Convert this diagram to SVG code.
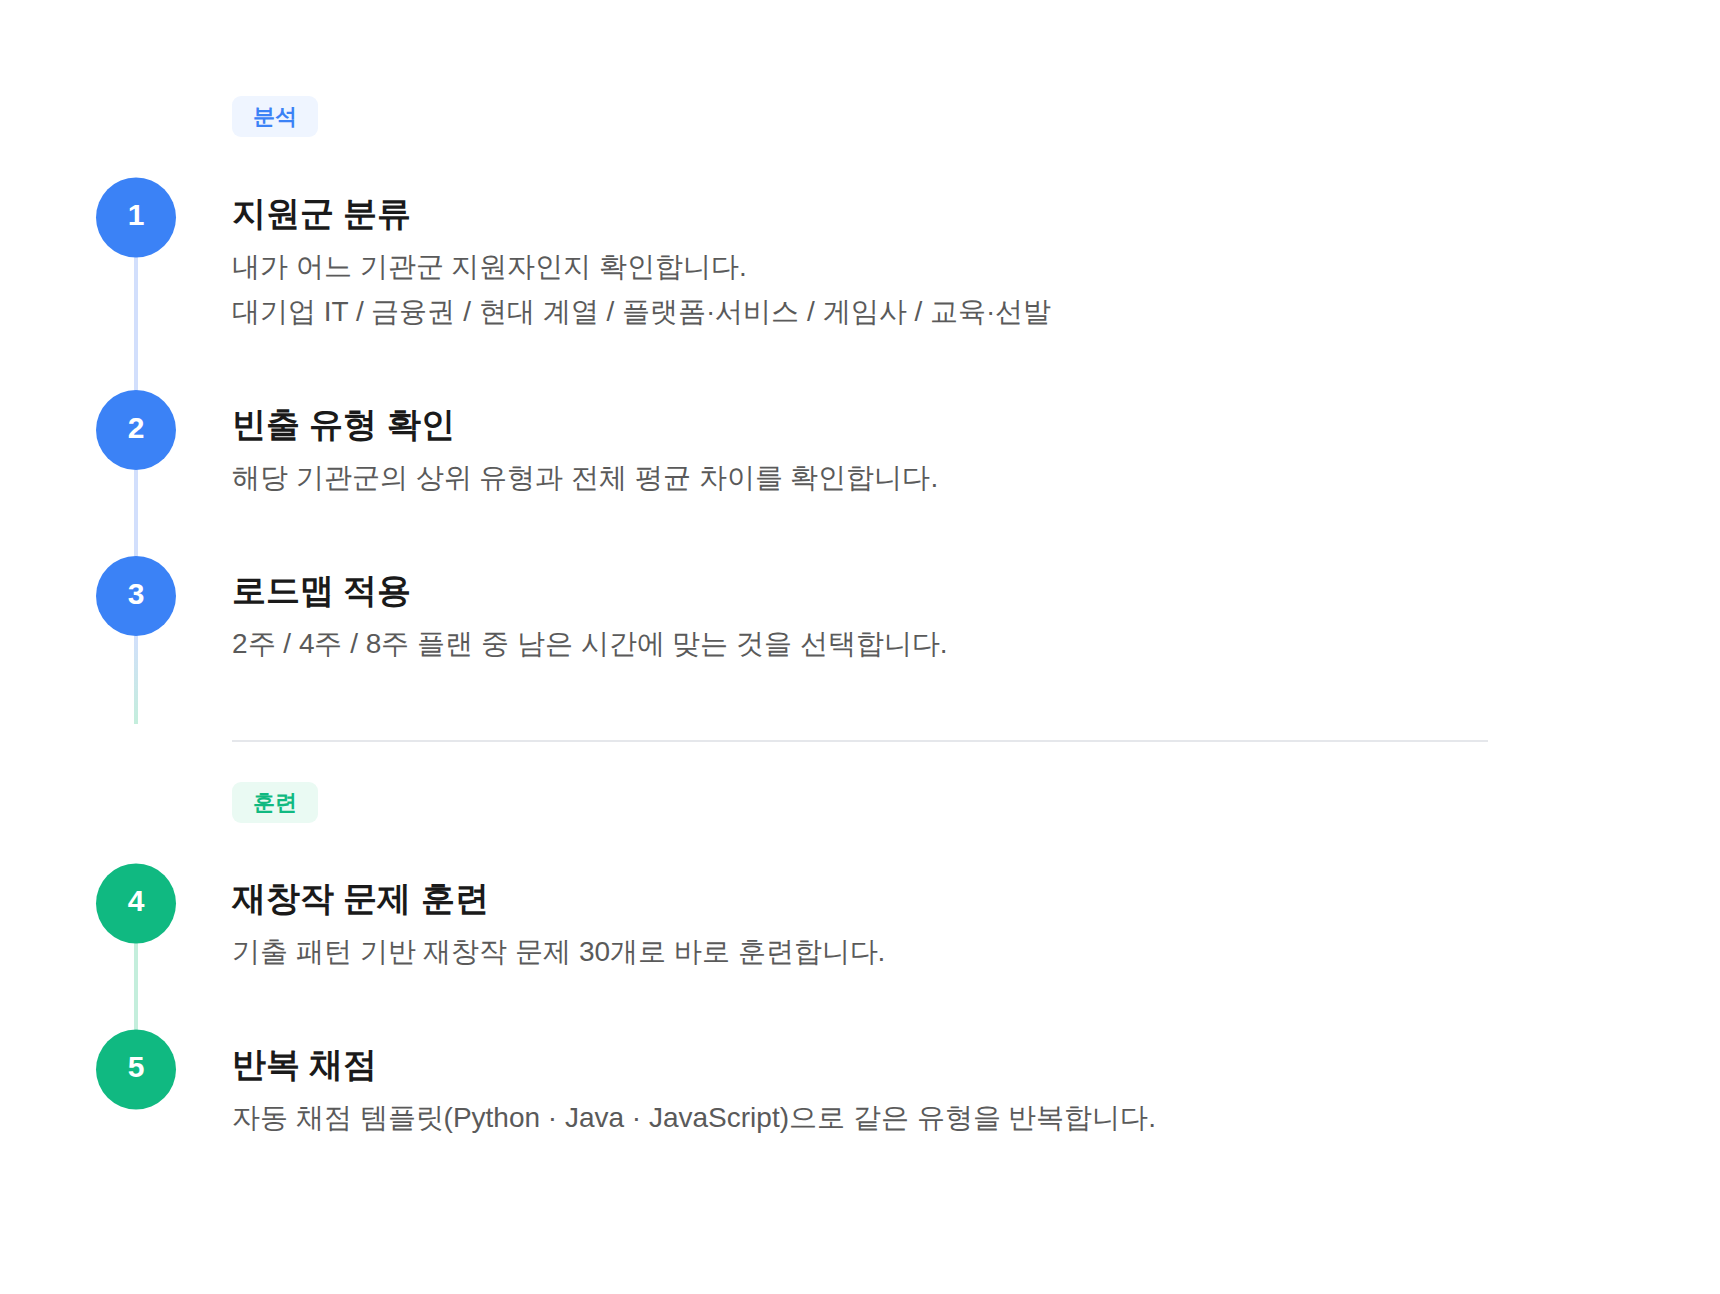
<svg xmlns="http://www.w3.org/2000/svg" width="1720" height="1294" viewBox="0 0 1720 1294">
  <defs>
    <linearGradient id="bg2g" x1="0" y1="0" x2="0" y2="1">
      <stop offset="0" stop-color="#D2DFFC"/>
      <stop offset="1" stop-color="#C4EEDC"/>
    </linearGradient>
    <style>
      .t{font-family:"Liberation Sans",sans-serif;}
      .title{font-size:34px;font-weight:700;fill:#1A1A1A;}
      .desc{font-size:28px;fill:#5A5A5A;}
      .num{font-size:30px;font-weight:700;fill:#FFFFFF;text-anchor:middle;}
      .badge{font-size:22px;font-weight:700;text-anchor:middle;}
      .blue{fill:#3B82F6;}
      .green{fill:#10B981;}
    </style>
  </defs>
  <rect width="1720" height="1294" fill="#FFFFFF"/>

  <g id="connectors">
    <rect x="134" y="256" width="4" height="136" fill="#D2DFFC"/>
    <rect x="134" y="468" width="4" height="90" fill="#D2DFFC"/>
    <rect x="134" y="634" width="4" height="90" fill="url(#bg2g)"/>
    <rect x="134" y="942" width="4" height="90" fill="#C4EEDC"/>
  </g>

  <g id="badge-analysis">
    <rect x="232" y="96" width="86" height="41" rx="9" fill="#EFF5FF"/>
    <text class="t badge" x="275" y="124" fill="#3B82F6">분석</text>
  </g>

  <g id="step1">
    <circle cx="136" cy="217.5" r="40" class="blue"/>
    <text class="t num" x="136" y="225">1</text>
    <text class="t title" x="232" y="224.5">지원군 분류</text>
    <text class="t desc" x="232" y="275.5">내가 어느 기관군 지원자인지 확인합니다.</text>
    <text class="t desc" x="232" y="320.5">대기업 IT / 금융권 / 현대 계열 / 플랫폼·서비스 / 게임사 / 교육·선발</text>
  </g>

  <g id="step2">
    <circle cx="136" cy="430" r="40" class="blue"/>
    <text class="t num" x="136" y="437.5">2</text>
    <text class="t title" x="232" y="436">빈출 유형 확인</text>
    <text class="t desc" x="232" y="487">해당 기관군의 상위 유형과 전체 평균 차이를 확인합니다.</text>
  </g>

  <g id="step3">
    <circle cx="136" cy="596" r="40" class="blue"/>
    <text class="t num" x="136" y="603.5">3</text>
    <text class="t title" x="232" y="602">로드맵 적용</text>
    <text class="t desc" x="232" y="653">2주 / 4주 / 8주 플랜 중 남은 시간에 맞는 것을 선택합니다.</text>
  </g>

  <g id="separator">
    <rect x="232" y="740" width="1256" height="2" fill="#E5E7EB"/>
  </g>

  <g id="badge-training">
    <rect x="232" y="782" width="86" height="41" rx="9" fill="#EAFAF3"/>
    <text class="t badge" x="275" y="810" fill="#10B981">훈련</text>
  </g>

  <g id="step4">
    <circle cx="136" cy="903.5" r="40" class="green"/>
    <text class="t num" x="136" y="911">4</text>
    <text class="t title" x="232" y="910">재창작 문제 훈련</text>
    <text class="t desc" x="232" y="961">기출 패턴 기반 재창작 문제 30개로 바로 훈련합니다.</text>
  </g>

  <g id="step5">
    <circle cx="136" cy="1069.5" r="40" class="green"/>
    <text class="t num" x="136" y="1077">5</text>
    <text class="t title" x="232" y="1076">반복 채점</text>
    <text class="t desc" x="232" y="1127">자동 채점 템플릿(Python · Java · JavaScript)으로 같은 유형을 반복합니다.</text>
  </g>
</svg>
